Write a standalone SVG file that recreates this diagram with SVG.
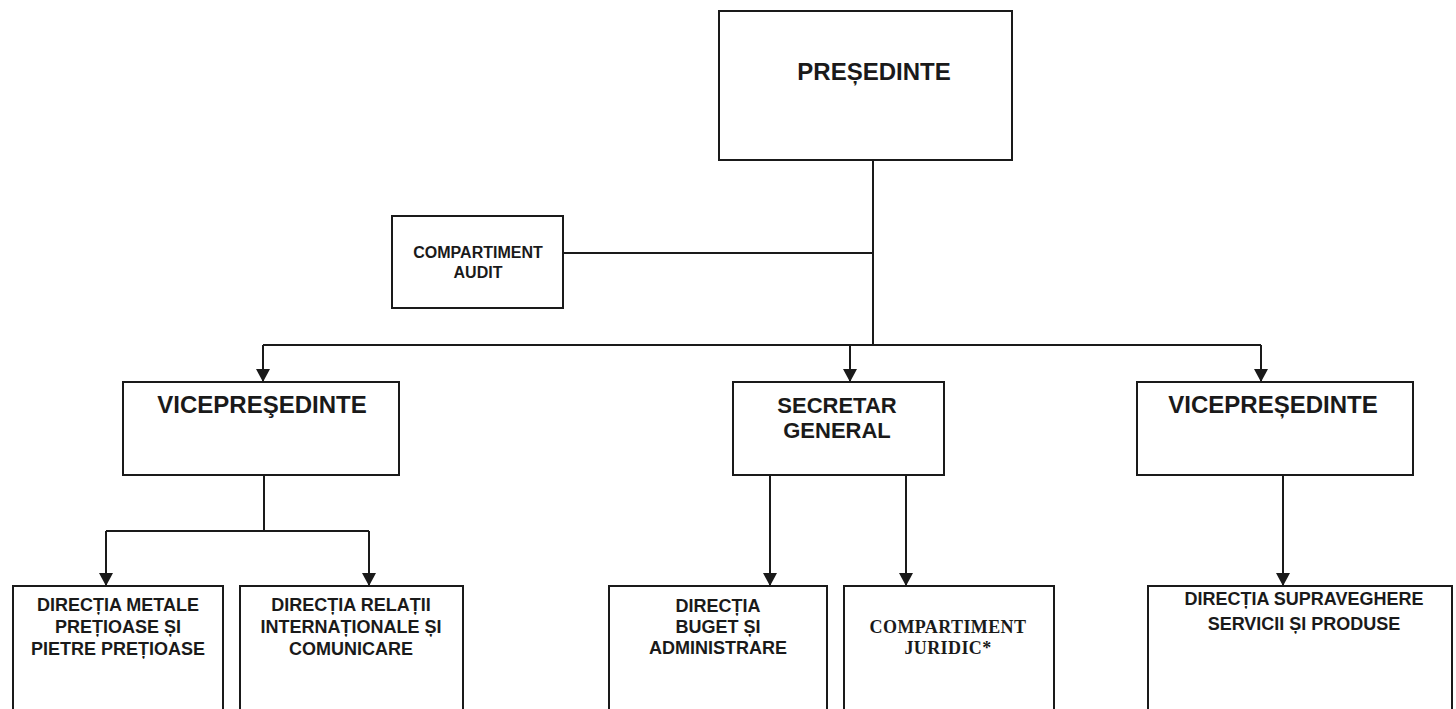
<svg xmlns="http://www.w3.org/2000/svg" width="1456" height="709" viewBox="0 0 1456 709">
<defs>
<marker id="arr" markerUnits="userSpaceOnUse" markerWidth="14" markerHeight="14" viewBox="0 0 14 14" refX="13" refY="7" orient="auto">
<path d="M0,0 L13,7 L0,14 Z" fill="#1a1a1a"/>
</marker>
<style>
.box{fill:#fff;stroke:#1a1a1a;stroke-width:2}
.ln{fill:none;stroke:#1a1a1a;stroke-width:2}
.t{font-family:"Liberation Sans",Arial,sans-serif;font-weight:bold;fill:#1a1a1a;text-anchor:middle}
.s{font-family:"Liberation Serif","Times New Roman",serif;font-weight:bold;fill:#1a1a1a;text-anchor:middle}
</style>
</defs>
<rect width="1456" height="709" fill="#fff"/>
<g id="connectors">
<path class="ln" d="M873,160 V345"/>
<path class="ln" d="M563,253 H873"/>
<path class="ln" d="M263,345 H1261"/>
<path class="ln" d="M263,345 V382" marker-end="url(#arr)"/>
<path class="ln" d="M850,345 V382" marker-end="url(#arr)"/>
<path class="ln" d="M1261,345 V382" marker-end="url(#arr)"/>
<path class="ln" d="M264,475 V531 M106,531 H369"/>
<path class="ln" d="M106,531 V586" marker-end="url(#arr)"/>
<path class="ln" d="M369,531 V586" marker-end="url(#arr)"/>
<path class="ln" d="M770,475 V586" marker-end="url(#arr)"/>
<path class="ln" d="M906,475 V586" marker-end="url(#arr)"/>
<path class="ln" d="M1283,475 V586" marker-end="url(#arr)"/>
</g>
<g id="presedinte">
<rect class="box" x="719" y="11" width="293" height="149"/>
<text class="t" x="874" y="80" font-size="24">PREȘEDINTE</text>
</g>
<g id="audit">
<rect class="box" x="392" y="216" width="171" height="92"/>
<text class="t" x="478" y="258" font-size="16">COMPARTIMENT</text>
<text class="t" x="478" y="278" font-size="16">AUDIT</text>
</g>
<g id="vp-stanga">
<rect class="box" x="123" y="382" width="276" height="93"/>
<text class="t" x="262" y="413" font-size="24">VICEPREŞEDINTE</text>
</g>
<g id="secretar">
<rect class="box" x="733" y="382" width="211" height="93"/>
<text class="t" x="837" y="413" font-size="22">SECRETAR</text>
<text class="t" x="837" y="438" font-size="22">GENERAL</text>
</g>
<g id="vp-dreapta">
<rect class="box" x="1137" y="382" width="276" height="93"/>
<text class="t" x="1273" y="413" font-size="24">VICEPREȘEDINTE</text>
</g>
<g id="dir-metale">
<rect class="box" x="13" y="586" width="210" height="140"/>
<text class="t" x="118" y="611" font-size="18">DIRECȚIA METALE</text>
<text class="t" x="118" y="633" font-size="18">PREȚIOASE ȘI</text>
<text class="t" x="118" y="655" font-size="18">PIETRE PREȚIOASE</text>
</g>
<g id="dir-relatii">
<rect class="box" x="240" y="586" width="223" height="140"/>
<text class="t" x="351" y="611" font-size="18">DIRECȚIA RELAȚII</text>
<text class="t" x="351" y="633" font-size="18">INTERNAȚIONALE ȘI</text>
<text class="t" x="351" y="655" font-size="18">COMUNICARE</text>
</g>
<g id="dir-buget">
<rect class="box" x="609" y="586" width="218" height="140"/>
<text class="t" x="718" y="612" font-size="18">DIRECȚIA</text>
<text class="t" x="718" y="633" font-size="18">BUGET ȘI</text>
<text class="t" x="718" y="654" font-size="18">ADMINISTRARE</text>
</g>
<g id="juridic">
<rect class="box" x="844" y="586" width="210" height="140"/>
<text class="s" x="948" y="633" font-size="18" letter-spacing="0.4">COMPARTIMENT</text>
<text class="s" x="948" y="654" font-size="18" letter-spacing="0.4">JURIDIC*</text>
</g>
<g id="dir-supraveghere">
<rect class="box" x="1148" y="586" width="304" height="140"/>
<text class="t" x="1304" y="605" font-size="18">DIRECȚIA SUPRAVEGHERE</text>
<text class="t" x="1304" y="630" font-size="18">SERVICII ȘI PRODUSE</text>
</g>
</svg>
